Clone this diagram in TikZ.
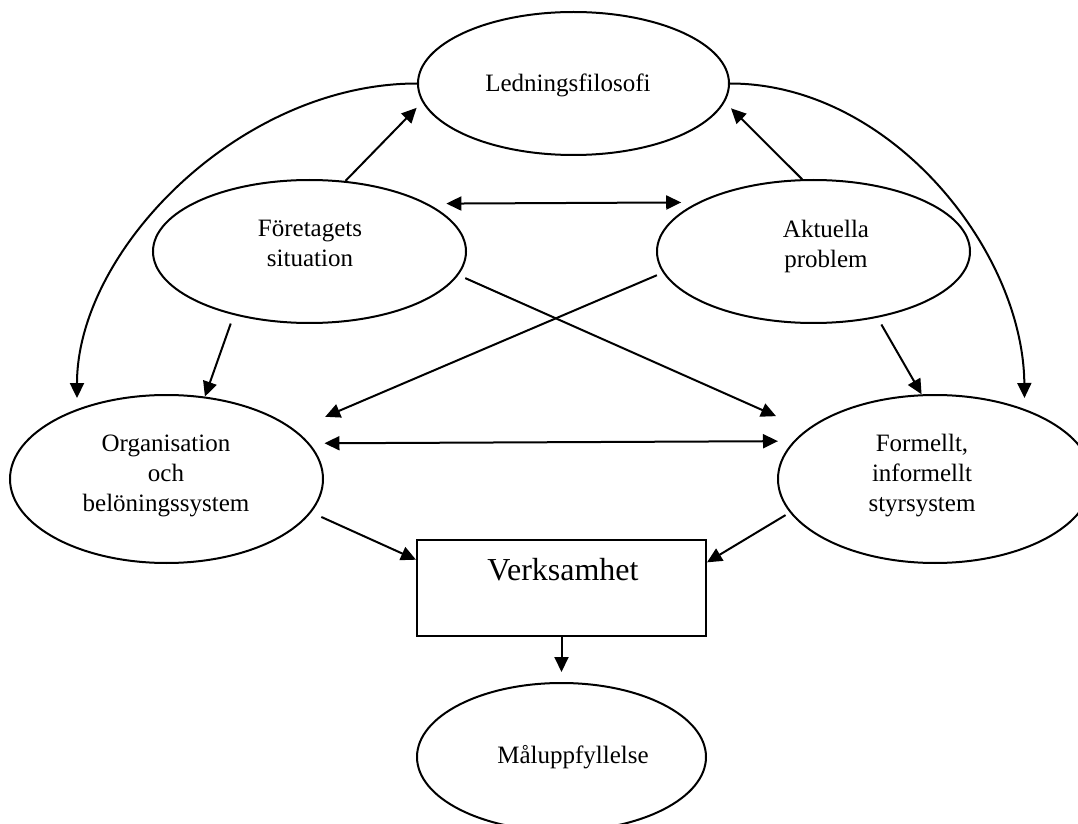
\documentclass[tikz,border=0pt]{standalone}
\usepackage{fontspec}
\setmainfont{Liberation Serif}
\usetikzlibrary{arrows.meta,shapes.geometric}
\begin{document}
\begin{tikzpicture}[x=0.5pt,y=-0.5pt,
  >={Triangle[length=7.5pt,width=7pt]},
  oval/.style={draw,ellipse,line width=1pt,inner sep=0pt},
  frame/.style={draw,rectangle,line width=1pt,inner sep=0pt},
  lbl/.style={font=\fontsize{12.5}{15}\selectfont,align=center,inner sep=0pt},
  link/.style={->,line width=1pt},
  both/.style={<->,line width=1pt}]

\useasboundingbox (0,0) rectangle (1078,824);
\clip (0,0) rectangle (1078,824);

% shapes
\node[oval,minimum width=155.5pt,minimum height=71.5pt] (led) at (573.5,83.5) {};
\node[oval,minimum width=156.5pt,minimum height=71.5pt] (fs) at (309.5,251.5) {};
\node[oval,minimum width=156.5pt,minimum height=71.5pt] (ap) at (813.5,251.5) {};
\node[oval,minimum width=156.5pt,minimum height=84pt] (org) at (166.5,479) {};
\node[oval,minimum width=157pt,minimum height=84pt] (form) at (935,479) {};
\node[frame,minimum width=144.5pt,minimum height=48pt] (verk) at (561.5,588) {};
\node[oval,minimum width=144.5pt,minimum height=74pt] (mal) at (561.5,757) {};

% labels
\node[lbl,anchor=base] (led-t) at (568,92) {Ledningsfilosofi};
\node[lbl] (fs-t) at (310,243.5) {Företagets\\situation};
\node[lbl] (ap-t) at (826,246) {Aktuella\\problem};
\node[lbl] (org-t) at (166,476) {Organisation\\och\\belöningssystem};
\node[lbl] (form-t) at (922,476) {Formellt,\\informellt\\styrsystem};
\node[lbl,anchor=base,font=\fontsize{16}{19}\selectfont] (verk-t) at (563,580) {Verksamhet};
\node[lbl,anchor=base] (mal-t) at (573,763) {Måluppfyllelse};

% connectors
\draw[link,shorten >=4pt] (fs.63.6) -- (led.187.2);
\draw[link,shorten >=4.4pt] (ap.99) -- (led.353);
\draw[both,shorten <=9.25pt,shorten >=8.25pt] (fs.22.9) -- (ap.157.1);
\draw[link,shorten >=5.5pt] (led.west) .. controls (240,83.5) and (77,250) .. (org.142.4);
\draw[link,shorten >=5.5pt] (led.east) .. controls (890,83.5) and (1023,250) .. (form.38.3);
\draw[link,shorten <=4.5pt] (fs.220.9) -- (org.65.9);
\draw[link,shorten <=3.9pt] (ap.314.7) -- (form.99);
\draw[link,shorten <=3.25pt,shorten >=16.5pt] (ap.188.4) -- (org.21.4);
\draw[link,shorten <=3.75pt,shorten >=16.6pt] (fs.351.85) -- (form.159.2);
\draw[both,shorten <=7.5pt,shorten >=7.8pt] (org.14.1) -- (form.165.9);
\draw[link,shorten <=5.5pt] (org.347.9) -- (verk.169.7);
\draw[link,shorten <=2.5pt] (form.193.1) -- (verk.10.3);
\draw[link,shorten >=5pt] (verk.south) -- (mal.north);
\end{tikzpicture}
\end{document}
